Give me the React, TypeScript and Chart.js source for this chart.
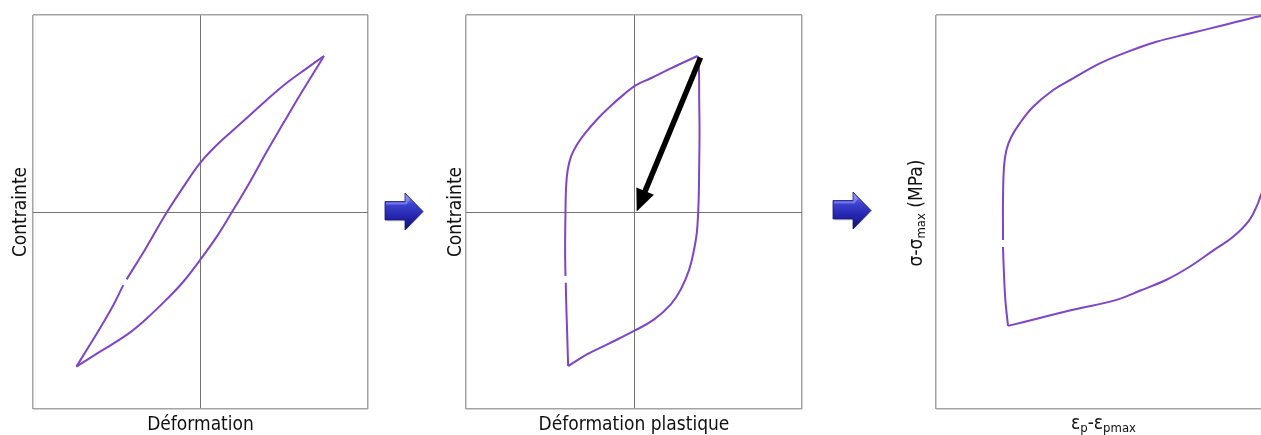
import React, { useEffect, useRef } from "react";
import { Chart, registerables } from "chart.js";

Chart.register(...registerables);

// ---------- Panel 1 : Contrainte vs Déformation (total strain loop) ----------
const p1LoadX = [-74.1, -68.0, -60.0, -52.0, -46.1, -45.0, -44.1, -32.1, -20.2, -10.3, -0.3, 9.7, 19.6, 29.6, 39.5, 51.4, 63.4, 73.7];
const p1LoadY = [-78.5, -70.1, -59.0, -47.2, -37.1, null, -34.2, -17.6, -0.3, 12.6, 24.8, 34.0, 41.6, 49.2, 56.9, 65.5, 72.9, 79.2];
const p1UnloadX = [73.7, 67.4, 59.4, 49.4, 39.5, 29.6, 18.6, 9.7, -0.3, -10.3, -20.2, -32.1, -44.1, -60.0, -74.1];
const p1UnloadY = [79.2, 70.4, 59.4, 45.0, 30.6, 15.4, -0.3, -12.5, -24.4, -35.4, -44.3, -54.0, -62.4, -70.9, -78.5];

// ---------- Panel 2 : Contrainte vs Déformation plastique ----------
const p2LoadX = [-39.2, -39.8, -40.4, -40.6, -40.7, -40.8, -41.0, -40.8, -40.4, -39.4, -37.4, -33.8, -28.8, -21.9, -13.9, -6.0, 1.0, 10.0, 21.9, 37.8];
const p2LoadY = [-78.2, -61.2, -44.3, -35.9, null, -32.5, -18.9, -1.0, 13.2, 21.7, 28.4, 34.4, 40.3, 47.1, 53.8, 59.7, 64.3, 67.9, 72.9, 79.2];
const p2UnloadX = [37.8, 38.6, 38.8, 39.0, 38.8, 38.6, 38.2, 37.4, 35.8, 32.9, 27.9, 21.9, 12.0, 0.0, -15.9, -27.8, -39.2];
const p2UnloadY = [79.2, 74.1, 57.2, 40.3, 23.4, 9.8, 0.0, -10.5, -18.9, -29.1, -39.2, -46.9, -54.5, -60.4, -67.2, -72.2, -78.2];
const p2ArrowFrom = [39.6, 78.4];
const p2ArrowTo = [1.6, 0.3];

// ---------- Panel 3 : σ-σmax vs εp-εpmax ----------
const p3LoadX = [-78.5, -79.3, -79.8, -80.0, -80.0, -80.0, -80.0, -80.0, -79.7, -79.0, -77.5, -75.0, -71.0, -65.1, -59.1, -51.1, -44.2, -34.2, -24.3, -14.3, -3.4, 0.0];
const p3LoadY = [-78.9, -72.3, -63.9, -58.9, null, -57.1, -55.4, -47.0, -38.5, -34.3, -30.9, -27.5, -23.3, -19.1, -16.1, -12.3, -9.8, -6.8, -4.7, -2.6, -0.3, 0.0];
const p3UnloadX = [0.0, 0.5, 0.8, -0.5, -3.2, -3.9, -6.4, -11.3, -17.3, -24.3, -31.2, -39.2, -46.1, -59.1, -69.0, -78.5];
const p3UnloadY = [0.0, -12.0, -30.0, -40.0, -46.1, -47.8, -52.0, -56.3, -59.8, -63.9, -67.2, -70.0, -72.3, -74.8, -76.9, -78.9];

// ---------- Axes ----------
const symRange = [-100, 100];
const negRange = [-100, 0];
const symTicks = [-100, 0, 100];
const negTicks = [-100, 0];

const titleP1X = "Déformation";
const titleP2X = "Déformation plastique";
const titleP12Y = "Contrainte";
// [text, isSubscript] runs for panel 3 titles
const titleP3X: [string, boolean][] = [["ε", false], ["p", true], ["-ε", false], ["pmax", true]];
const titleP3Y: [string, boolean][] = [["σ-σ", false], ["max", true], [" (MPa)", false]];

const FONT = "'DejaVu Sans Condensed', 'DejaVu Sans', sans-serif";
const PURPLE = "#7f44c9";
const FRAME = "#a3a3a3";
const CROSS = "#747474";
const TEXT = "#111111";
const MAIN_SIZE = 19;
const SUB_SIZE = 13;
const SUB_SHIFT = 3.5;

function pts(xs: number[], ys: (number | null)[]) {
  return xs.map((x, i) => ({ x, y: ys[i] }));
}

const arrowPlugin = {
  id: "blackArrow",
  afterDatasetsDraw(chart: any) {
    const { ctx, scales } = chart;
    const x0 = scales.x.getPixelForValue(p2ArrowFrom[0]);
    const y0 = scales.y.getPixelForValue(p2ArrowFrom[1]);
    const x1 = scales.x.getPixelForValue(p2ArrowTo[0]);
    const y1 = scales.y.getPixelForValue(p2ArrowTo[1]);
    const ang = Math.atan2(y1 - y0, x1 - x0);
    const headLen = 22;
    const headW = 9.5;
    const bx = x1 - headLen * Math.cos(ang);
    const by = y1 - headLen * Math.sin(ang);
    ctx.save();
    ctx.strokeStyle = "#000";
    ctx.fillStyle = "#000";
    ctx.lineWidth = 5.5;
    ctx.lineCap = "butt";
    ctx.beginPath();
    ctx.moveTo(x0, y0);
    ctx.lineTo(bx + 3 * Math.cos(ang), by + 3 * Math.sin(ang));
    ctx.stroke();
    ctx.beginPath();
    ctx.moveTo(x1, y1);
    ctx.lineTo(bx + headW * Math.sin(ang), by - headW * Math.cos(ang));
    ctx.lineTo(bx - headW * Math.sin(ang), by + headW * Math.cos(ang));
    ctx.closePath();
    ctx.fill();
    ctx.restore();
  },
};

function runsWidth(ctx: CanvasRenderingContext2D, runs: [string, boolean][]) {
  let w = 0;
  for (const [t, sub] of runs) {
    ctx.font = `${sub ? SUB_SIZE : MAIN_SIZE}px ${FONT}`;
    w += ctx.measureText(t).width;
  }
  return w;
}

function drawRuns(ctx: CanvasRenderingContext2D, runs: [string, boolean][], startX: number, baseline: number) {
  let x = startX;
  ctx.textBaseline = "alphabetic";
  ctx.textAlign = "left";
  for (const [t, sub] of runs) {
    ctx.font = `${sub ? SUB_SIZE : MAIN_SIZE}px ${FONT}`;
    ctx.fillText(t, x, baseline + (sub ? SUB_SHIFT : 0));
    x += ctx.measureText(t).width;
  }
}

const subTitlePlugin = {
  id: "subTitles",
  afterDraw(chart: any) {
    const { ctx, chartArea } = chart;
    const cx = (chartArea.left + chartArea.right) / 2;
    const cy = (chartArea.top + chartArea.bottom) / 2;
    ctx.save();
    ctx.fillStyle = TEXT;
    // x title
    const wx = runsWidth(ctx, titleP3X);
    drawRuns(ctx, titleP3X, cx - wx / 2, chartArea.bottom + 19.5);
    // y title (rotated)
    const wy = runsWidth(ctx, titleP3Y);
    ctx.translate(chartArea.left - 14.5, cy + 1);
    ctx.rotate(-Math.PI / 2);
    drawRuns(ctx, titleP3Y, -wy / 2, 0);
    ctx.restore();
  },
};

type Spec = {
  series: [number[], (number | null)[]][];
  xRange: number[];
  yRange: number[];
  xTicks: number[];
  yTicks: number[];
  cross: boolean;
  xTitle: string;
  yTitle: string;
  showTitles: boolean;
  padding: { left: number; top: number; right: number; bottom: number };
  yTitlePadBottom: number;
  extra: any[];
};

function makeConfig(s: Spec): any {
  const gridColor = (c: any) => (s.cross && c.tick && c.tick.value === 0 ? CROSS : FRAME);
  const gridWidth = (c: any) => (s.cross && c.tick && c.tick.value === 0 ? 1 : 1.5);
  const titleFont = { family: FONT, size: MAIN_SIZE, lineHeight: 1 };
  return {
    type: "scatter",
    data: {
      datasets: s.series.map(([xs, ys]) => ({
        data: pts(xs, ys),
        showLine: true,
        borderColor: PURPLE,
        backgroundColor: PURPLE,
        borderWidth: 2,
        pointRadius: 0,
        tension: 0.4,
        spanGaps: false,
        fill: false,
      })),
    },
    options: {
      responsive: false,
      animation: false,
      events: [],
      layout: { padding: s.padding, autoPadding: false },
      plugins: { legend: { display: false }, tooltip: { enabled: false }, title: { display: false } },
      scales: {
        x: {
          type: "linear",
          min: s.xRange[0],
          max: s.xRange[1],
          afterBuildTicks: (a: any) => {
            a.ticks = s.xTicks.map((v) => ({ value: v }));
          },
          ticks: { display: false },
          grid: { drawTicks: false, color: gridColor, lineWidth: gridWidth },
          border: { display: false },
          title: {
            display: s.showTitles,
            text: s.xTitle,
            color: TEXT,
            font: titleFont,
            padding: { top: 6.5, bottom: 0.5 },
          },
        },
        y: {
          type: "linear",
          min: s.yRange[0],
          max: s.yRange[1],
          afterBuildTicks: (a: any) => {
            a.ticks = s.yTicks.map((v) => ({ value: v }));
          },
          ticks: { display: false },
          grid: { drawTicks: false, color: gridColor, lineWidth: gridWidth },
          border: { display: false },
          title: {
            display: s.showTitles,
            text: s.yTitle,
            color: TEXT,
            font: titleFont,
            padding: { top: 0, bottom: s.yTitlePadBottom },
          },
        },
      },
    },
    plugins: s.extra,
  };
}

function Panel({ left, width, spec }: { left: number; width: number; spec: Spec }) {
  const ref = useRef<HTMLCanvasElement>(null);
  useEffect(() => {
    const chart = new Chart(ref.current as HTMLCanvasElement, makeConfig(spec));
    return () => chart.destroy();
  }, []);
  return (
    <canvas
      ref={ref}
      width={width}
      height={435}
      style={{ position: "absolute", left, top: 0, width, height: 435 }}
    />
  );
}

function BlueArrow({ left, top, id }: { left: number; top: number; id: string }) {
  return (
    <svg
      width={44}
      height={42}
      viewBox="0 0 44 42"
      style={{ position: "absolute", left, top, overflow: "visible" }}
    >
      <defs>
        <linearGradient id={id} x1="0" y1="0" x2="0" y2="1">
          <stop offset="0" stopColor="#8a93f4" />
          <stop offset="0.3" stopColor="#3d43d0" />
          <stop offset="0.65" stopColor="#2424ad" />
          <stop offset="1" stopColor="#10106a" />
        </linearGradient>
      </defs>
      <polygon points="2,10.5 21,10.5 21,1 39,19 21,38 21,28.5 2,28.5" fill="#9a9aa8" opacity="0.35" />
      <polygon points="0,8.5 20,8.5 20,0 38,18.5 20,37 20,27 0,27" fill={`url(#${id})`} stroke="#15157a" strokeWidth="0.8" />
      <polygon points="1,9.5 20.5,9.5 20.5,2 25,6.5 21.5,11.5 1,11.5" fill="#9aa2f7" opacity="0.55" />
    </svg>
  );
}

const spec1: Spec = {
  series: [
    [p1LoadX, p1LoadY],
    [p1UnloadX, p1UnloadY],
  ],
  xRange: symRange,
  yRange: symRange,
  xTicks: symTicks,
  yTicks: symTicks,
  cross: true,
  xTitle: titleP1X,
  yTitle: titleP12Y,
  showTitles: true,
  padding: { left: 12, top: 15, right: 2, bottom: 0 },
  yTitlePadBottom: 2,
  extra: [],
};

const spec2: Spec = {
  series: [
    [p2LoadX, p2LoadY],
    [p2UnloadX, p2UnloadY],
  ],
  xRange: symRange,
  yRange: symRange,
  xTicks: symTicks,
  yTicks: symTicks,
  cross: true,
  xTitle: titleP2X,
  yTitle: titleP12Y,
  showTitles: true,
  padding: { left: 16.5, top: 15, right: 2, bottom: 0 },
  yTitlePadBottom: 0.5,
  extra: [arrowPlugin],
};

const spec3: Spec = {
  series: [
    [p3LoadX, p3LoadY],
    [p3UnloadX, p3UnloadY],
  ],
  xRange: negRange,
  yRange: negRange,
  xTicks: negTicks,
  yTicks: negTicks,
  cross: false,
  xTitle: "",
  yTitle: "",
  showTitles: false,
  padding: { left: 56, top: 15, right: 4, bottom: 26 },
  yTitlePadBottom: 0,
  extra: [subTitlePlugin],
};

export default function App() {
  return (
    <div
      style={{
        position: "fixed",
        left: 0,
        top: 0,
        width: 1261,
        height: 435,
        overflow: "hidden",
        background: "#ffffff",
      }}
    >
      <Panel left={0} width={370} spec={spec1} />
      <Panel left={430} width={374} spec={spec2} />
      <Panel left={880} width={395} spec={spec3} />
      <BlueArrow left={385} top={193} id="ba1" />
      <BlueArrow left={833} top={192} id="ba2" />
    </div>
  );
}
